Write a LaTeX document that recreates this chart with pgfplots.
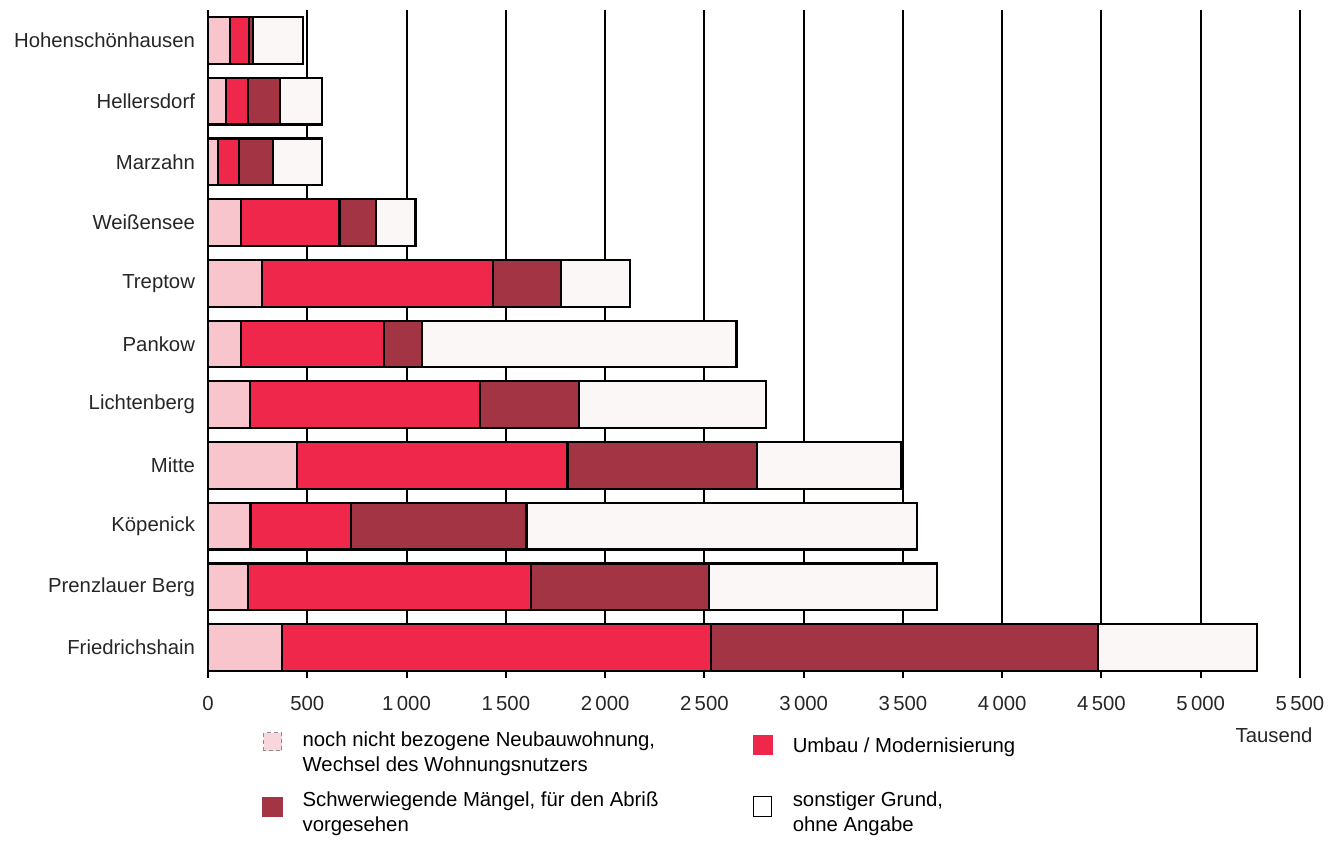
\documentclass[border=0pt]{standalone}
\usepackage{pgfplots}
\usepackage{pgfplotstable}
\pgfplotsset{compat=1.18}
\usepackage{fontspec}
\setmainfont{Liberation Sans}
\definecolor{cPink}{HTML}{F7C5CB}
\definecolor{cRed}{HTML}{EF284B}
\definecolor{cDark}{HTML}{A33444}
\definecolor{cWhite}{HTML}{FCF7F7}

% y: 0 = Friedrichshain ... 10 = Hohenschoenhausen ; a,b,c,d = segment lengths (Tausend)
\pgfplotstableread{
y a b c d
0 374 2158 1951 800
1 201 1425 898 1146
2 214 505 885 1966
3 447 1364 954 725
4 211 1159 499 942
5 167 719 190 1586
6 273 1164 341 346
7 167 495 186 197
8 50 107 171 248
9 90 112 162 212
10 110 97 20 253
}\datatable

\begin{document}
\begin{tikzpicture}
\path[use as bounding box] (0,0) rectangle (666.5bp,420.5bp);
\begin{axis}[
  at={(104bp,81.5bp)}, anchor=south west,
  scale only axis, width=546bp, height=334bp,
  clip=false,
  xbar stacked, bar width=0.77,
  xmin=0, xmax=5500, ymin=-0.5, ymax=10.5,
  xtick={0,500,...,5500}, ytick={0,...,10},
  yticklabels={Friedrichshain, Prenzlauer Berg, Köpenick, Mitte, Lichtenberg, Pankow, Treptow, Weißensee, Marzahn, Hellersdorf, Hohenschönhausen},
  scaled x ticks=false,
  /pgf/number format/1000 sep={\,},
  /pgf/number format/assume math mode=true,
  xticklabel style={yshift=-5.5bp},
  yticklabel style={xshift=-3bp},
  tick label style={font=\fontsize{10.2}{12}\selectfont, text=black!85},
  major tick length=0pt,
  xmajorgrids, ymajorgrids=false,
  grid style={black, line width=1bp},
  axis line style={draw=none},
  every axis plot/.append style={draw=black, line width=1.1bp},
  legend columns=2,
  legend style={at={(0.0495,-0.074)}, anchor=north west, draw=none, fill=none,
    inner sep=0pt, row sep=11bp,
    font=\fontsize{10.2}{12.5}\selectfont,
    /tikz/every odd column/.append style={column sep=8bp},
    /tikz/every even column/.append style={column sep=18bp}},
  legend cell align=left,
]
\addplot[fill=cPink, forget plot] table[x=a, y=y] {\datatable};
\addplot[fill=cRed, forget plot] table[x=b, y=y] {\datatable};
\addplot[fill=cDark, forget plot] table[x=c, y=y] {\datatable};
\addplot[fill=cWhite, forget plot] table[x=d, y=y] {\datatable};

\addlegendimage{legend image code/.code={\draw[fill=cPink!70, draw=black!45, dash pattern=on 2bp off 1.5bp, line width=0.5bp] (0bp,-2bp) rectangle (9bp,7bp);}}
\addlegendentry{\parbox[c]{205bp}{noch nicht bezogene Neubauwohnung,\\Wechsel des Wohnungsnutzers}}
\addlegendimage{legend image code/.code={\fill[cRed] (0bp,-3.5bp) rectangle (9bp,5.5bp);}}
\addlegendentry{\parbox[c]{200bp}{Umbau / Modernisierung}}
\addlegendimage{legend image code/.code={\fill[cDark] (0bp,-4.5bp) rectangle (9bp,4.5bp);}}
\addlegendentry{\parbox[c]{205bp}{Schwerwiegende Mängel, für den Abriß\\vorgesehen}}
\addlegendimage{legend image code/.code={\draw[fill=white, draw=black, line width=0.6bp] (0bp,-5bp) rectangle (9bp,5bp);}}
\addlegendentry{\parbox[c]{200bp}{sonstiger Grund,\\ohne Angabe}}

\node[font=\fontsize{10.2}{12}\selectfont, text=black!85] at ([xshift=-13bp,yshift=-28.5bp]rel axis cs:1,0) {Tausend};
\end{axis}
\end{tikzpicture}
\end{document}
